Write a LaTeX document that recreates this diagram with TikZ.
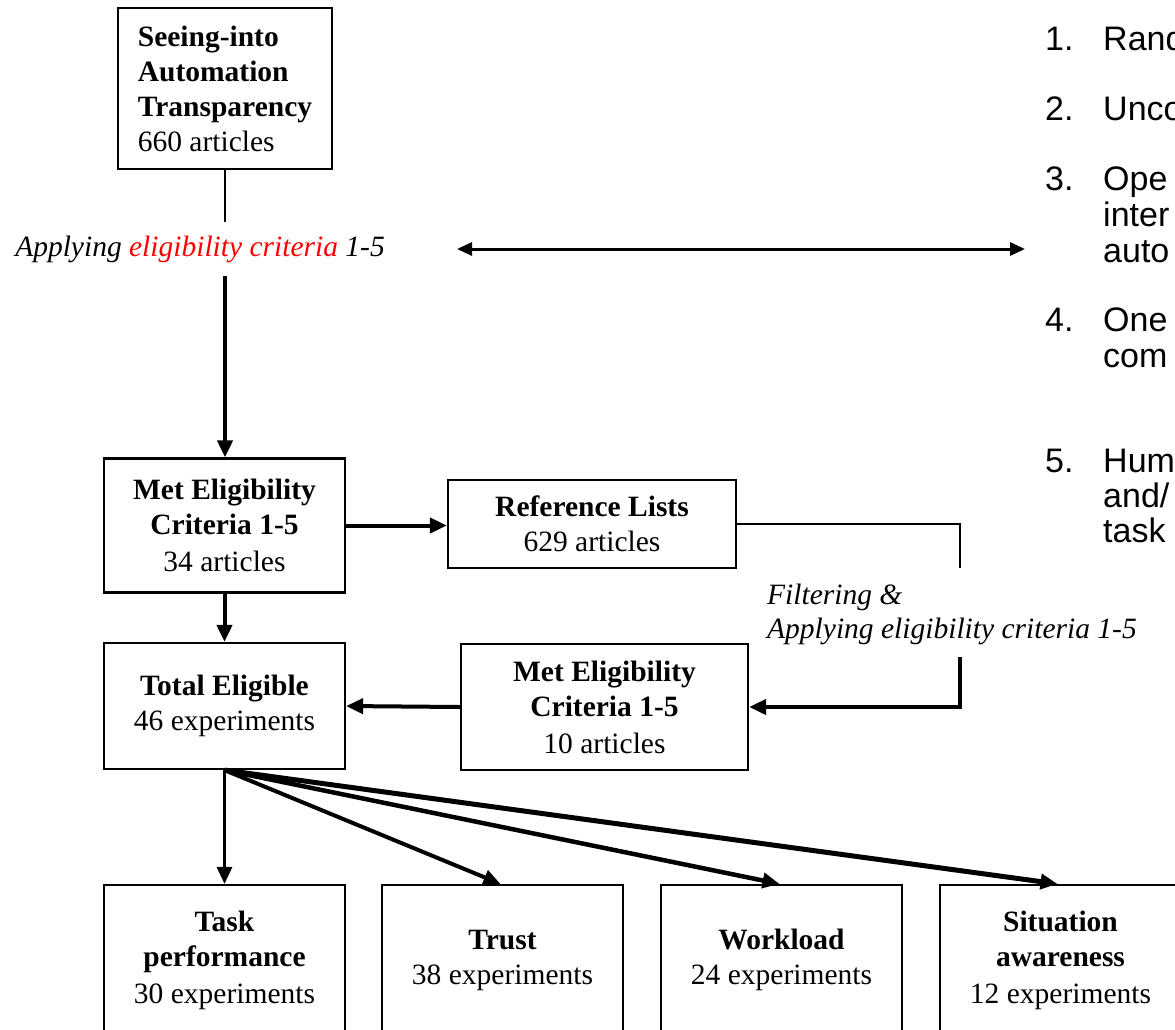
\documentclass[tikz,border=0pt]{standalone}
\usepackage{fontspec}
\setmainfont{Liberation Serif}
\newfontfamily\listfont{Liberation Sans}
\usetikzlibrary{arrows.meta}
\begin{document}
\begin{tikzpicture}[x=1pt,y=-1pt,
  box/.style={draw, line width=2.2pt, align=center, inner sep=0pt,
    font=\fontsize{29.5}{35}\selectfont},
  lab/.style={inner sep=0pt, font=\fontsize{29.5}{34}\selectfont\itshape},
  lst/.style={inner sep=0pt, font=\listfont\fontsize{34}{38}\selectfont},
  tipA/.style={-{Triangle[length=17pt,width=15pt]}},
  arr/.style={line width=4pt, line join=miter, tipA},
  thinl/.style={line width=2pt},
  dbl/.style={line width=3pt, {Triangle[length=15pt,width=13pt]}-{Triangle[length=15pt,width=13pt]}}]
\useasboundingbox (0,0) rectangle (1175,1029);
\clip (0,0) rectangle (1175,1029);

% boxes
\node[box, align=left, minimum width=214, minimum height=161] (b1) at (225,88.5)
  {\textbf{Seeing-into}\\\textbf{Automation}\\\textbf{Transparency}\\660 articles};
\node[box, minimum width=241, minimum height=134] (b2) at (224.5,525.5)
  {\textbf{Met Eligibility}\\\textbf{Criteria 1-5}\\[2pt]34 articles};
\node[box, minimum width=288, minimum height=88] (b3) at (592,524)
  {\textbf{Reference Lists}\\629 articles};
\node[box, minimum width=241, minimum height=126] (b4) at (224.5,706)
  {\textbf{Total Eligible}\\46 experiments};
\node[box, minimum width=287, minimum height=126] (b5) at (604.5,707)
  {\textbf{Met Eligibility}\\\textbf{Criteria 1-5}\\[2pt]10 articles};

\node[box, minimum width=241, minimum height=150] (o1) at (224.5,960)
  {\textbf{Task}\\\textbf{performance}\\[2pt]30 experiments};
\node[box, minimum width=241, minimum height=150] (o2) at (502.5,960)
  {\textbf{Trust}\\38 experiments};
\node[box, minimum width=241, minimum height=150] (o3) at (781.5,960)
  {\textbf{Workload}\\24 experiments};
\node[box, minimum width=241, minimum height=150] (o4) at (1060.5,960)
  {\textbf{Situation}\\\textbf{awareness}\\[2pt]12 experiments};

% labels
\node[lab, minimum height=54] (lab1) at (200,249)
  {Applying \textcolor{red}{eligibility criteria} 1-5};
\node[lab, anchor=west, align=left] (lab2) at (767,614)
  {Filtering \&\\Applying eligibility criteria 1-5};

% list on the right
\node[lst, anchor=base west] (n1) at (1045,50) {1.};
\node[lst, anchor=base west] (s1) at (1103,50) {Rand};
\node[lst, anchor=base west] (n2) at (1045,120) {2.};
\node[lst, anchor=base west] (s2) at (1103,120) {Unco};
\node[lst, anchor=base west] (n3) at (1045,190) {3.};
\node[lst, anchor=base west] (s3a) at (1103,190) {Ope};
\node[lst, anchor=base west] (s3b) at (1103,226) {inter};
\node[lst, anchor=base west] (s3c) at (1103,262) {auto};
\node[lst, anchor=base west] (n4) at (1045,331) {4.};
\node[lst, anchor=base west] (s4a) at (1103,331) {One};
\node[lst, anchor=base west] (s4b) at (1103,367) {com};
\node[lst, anchor=base west] (n5) at (1045,472) {5.};
\node[lst, anchor=base west] (s5a) at (1103,472) {Hum};
\node[lst, anchor=base west] (s5b) at (1103,507) {and/};
\node[lst, anchor=base west] (s5c) at (1103,542) {task};

% connectors
\draw[thinl] (b1.south) -- (b1.south |- lab1.north);
\draw[arr] (b1.south |- lab1.south) -- (b1.south |- b2.north);

\coordinate (d1) at (457,249);
\coordinate (d2) at (1025,249);
\draw[dbl] (d1) -- (d2);

\draw[arr] (b2.east) -- (b2.east -| b3.west);
\draw[arr] (b2.south) -- (b4.north);

\coordinate (r1) at (960,568);
\coordinate (r2) at (960,657);
\draw[thinl] (b3.east) -- (b3.east -| r1) -- (r1);
\draw[arr] (r2) -- (r2 |- b5.east) -- (b5.east);
\draw[arr] (b5.west) -- (b4.east);

\draw[line width=3.2pt, tipA] (b4.south) -- (o1.north);
\draw[line width=4pt, tipA] (b4.south) -- ([xshift=-2pt]o2.north);
\draw[line width=4.5pt, tipA] (b4.south) -- ([xshift=-2pt]o3.north);
\draw[line width=5pt, tipA] (b4.south) -- ([xshift=-3pt]o4.north);
\end{tikzpicture}
\end{document}
